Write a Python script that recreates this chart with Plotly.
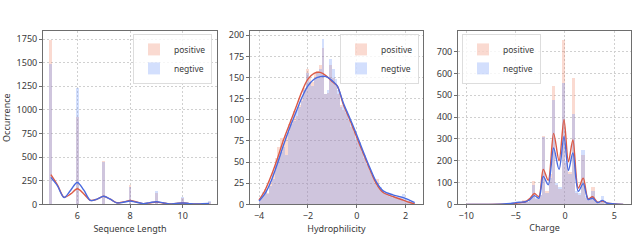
import plotly.graph_objects as go

# ---------------- data ----------------
series_names = ["positive", "negtive"]

# Panel 1: Sequence Length
len_bins = [5, 6, 7, 8, 9, 10, 11]
len_pos = [1740, 920, 460, 210, 125, 65, 25]
len_neg = [1490, 1230, 445, 180, 140, 75, 35]
kde_len_x = [5, 5.25, 5.5, 5.75, 6, 6.25, 6.5, 6.75, 7, 7.25, 7.5, 7.75, 8, 8.25,
             8.5, 8.75, 9, 9.25, 9.5, 9.75, 10, 10.25, 10.5, 10.75, 11]
kde_len_pos = [315, 205, 75, 110, 165, 110, 42, 55, 85, 55, 17, 25, 40, 25,
               8, 15, 25, 15, 5, 10, 15, 8, 3, 5, 8]
kde_len_neg = [285, 195, 72, 150, 232, 150, 42, 55, 85, 55, 15, 22, 35, 22,
               8, 18, 28, 17, 5, 10, 15, 8, 3, 6, 9]

# Panel 2: Hydrophilicity (60 bins from -4.0 to 2.4)
hyd_lo, hyd_hi, hyd_n = -4.0, 2.4, 60
hyd_pos = [8, 10, 18, 14, 28, 38, 55, 68, 78, 72, 82, 95, 100, 110, 105, 118, 125, 138, 160, 150,
           145, 155, 158, 165, 185, 130, 132, 165, 150, 140, 130, 118, 112, 108, 100, 92, 85, 75, 72, 62,
           55, 48, 40, 35, 28, 30, 18, 15, 12, 10, 9, 8, 7, 7, 5, 5, 4, 3, 2, 1]
hyd_neg = [6, 15, 17, 12, 22, 30, 45, 55, 62, 68, 58, 85, 95, 98, 112, 115, 122, 135, 155, 145,
           140, 150, 155, 160, 195, 130, 135, 172, 160, 148, 135, 115, 118, 110, 102, 95, 88, 80, 74, 64,
           58, 48, 42, 35, 25, 22, 20, 16, 14, 12, 12, 10, 9, 9, 10, 12, 6, 4, 3, 2]
kde_hyd_x = [-4.0, -3.75, -3.5, -3.25, -3.0, -2.75, -2.5, -2.25, -2.0, -1.75, -1.5, -1.25, -1.0,
             -0.8, -0.55, -0.27, 0.0, 0.27, 0.54, 0.81, 1.08, 1.5, 1.9, 2.15, 2.37]
kde_hyd_pos = [5, 17, 34, 54, 76, 95, 114, 133, 148, 155, 156, 152, 145,
               140, 118, 99, 79, 60, 41, 24, 14, 9, 5, 2.5, 0.5]
kde_hyd_neg = [4, 13, 28, 48, 70, 90, 108, 126, 140, 148, 151, 151, 146,
               140, 120, 101, 82, 62, 43, 26, 16, 11, 8, 5, 2]

# Panel 3: Charge (48 bins from -10 to 6)
chg_lo, chg_hi, chg_n = -10.0, 6.0, 48
chg_pos = [1, 0, 0, 0, 0, 0, 0, 0, 0, 0, 0, 0, 0, 1, 2, 3, 8, 18, 10, 30,
           105, 25, 45, 315, 60, 140, 540, 90, 70, 755, 190, 150, 580, 50, 45, 225, 30, 20, 80, 10,
           8, 20, 3, 2, 3, 1, 0, 0]
chg_neg = [0, 0, 0, 0, 0, 0, 0, 0, 0, 0, 0, 0, 0, 2, 4, 8, 10, 15, 12, 25,
           90, 30, 45, 310, 50, 120, 480, 100, 80, 555, 200, 140, 415, 60, 50, 250, 40, 25, 60, 15,
           10, 40, 8, 4, 5, 2, 1, 0]
kde_chg_x = [-10, -8, -6.5, -5.5, -5, -4.5, -4, -3.6, -3.1, -2.65, -2.2, -1.7, -1.15, -0.6, -0.1,
             0.35, 0.8, 1.35, 1.85, 2.35, 2.8, 3.3, 3.8, 4.3, 5.0, 5.9]
kde_chg_pos = [0, 0, 0.5, 2, 4, 8, 12, 25, 50, 35, 160, 110, 325, 200, 388,
               195, 295, 75, 120, 25, 35, 10, 15, 5, 2, 0]
kde_chg_neg = [0, 0, 1, 4, 8, 10, 12, 20, 40, 28, 128, 90, 258, 160, 310,
               155, 235, 60, 95, 22, 28, 8, 18, 5, 2, 0]

# ---------------- style ----------------
bar_colors = ["rgba(238,120,85,0.27)", "rgba(110,150,250,0.30)"]
line_colors = ["#dc5a46", "#4a6ae0"]
FONT = "Noto Sans"
frame = "#6e6e6e"
gridc = "#d0d0d0"
txtc = "#3a3a3a"


def centers(lo, hi, n):
    w = (hi - lo) / n
    return [lo + w * (i + 0.5) for i in range(n)], w


fig = go.Figure()

panels = [
    ("x", "y", "legend", len_bins, 0.11, [len_pos, len_neg], kde_len_x, [kde_len_pos, kde_len_neg]),
]
hx, hw = centers(hyd_lo, hyd_hi, hyd_n)
cx, cw = centers(chg_lo, chg_hi, chg_n)
panels.append(("x2", "y2", "legend2", hx, hw, [hyd_pos, hyd_neg], kde_hyd_x, [kde_hyd_pos, kde_hyd_neg]))
panels.append(("x3", "y3", "legend3", cx, cw, [chg_pos, chg_neg], kde_chg_x, [kde_chg_pos, kde_chg_neg]))

for xa, ya, lg, bx, bw, bars, kx, kys in panels:
    for k in range(2):
        fig.add_trace(go.Bar(x=bx, y=bars[k], width=bw, name=series_names[k],
                             marker=dict(color=bar_colors[k], line=dict(width=0)),
                             xaxis=xa, yaxis=ya, legend=lg, showlegend=True))
    for k in range(2):
        fig.add_trace(go.Scatter(x=kx, y=kys[k], mode="lines",
                                 line=dict(color=line_colors[k], width=1.4, shape="spline", smoothing=0.9),
                                 xaxis=xa, yaxis=ya, showlegend=False, hoverinfo="skip"))

W, H = 637, 241
ytop, ybot = 1 - 30 / H, 1 - 209.3 / H
doms = [(43 / W, 217 / W), (250 / W, 423 / W), (458 / W, 631 / W)]
xranges = [[4.7, 11.3], [-4.37, 2.71], [-10.84, 6.69]]
xticks = [[6, 8, 10], [-4, -2, 0, 2], [-10, -5, 0, 5]]
yranges = [[0, 1835], [0, 205], [0, 794]]
ydt = [250, 25, 100]
xtitles = ["Sequence Length", "Hydrophilicity", "Charge"]

axcommon = dict(showline=True, mirror=True, linecolor=frame, linewidth=1, ticks="outside", ticklen=3,
                tickcolor=frame, tickfont=dict(family=FONT, size=9, color=txtc),
                showgrid=True, gridcolor=gridc, griddash="2px,2px", gridwidth=0.7, zeroline=False)

layout = dict(width=W, height=H, margin=dict(l=0, r=0, t=0, b=0), plot_bgcolor="white",
              paper_bgcolor="white", barmode="overlay", bargap=0, showlegend=True,
              font=dict(family=FONT, size=9, color=txtc))
for i in range(3):
    sx = "" if i == 0 else str(i + 1)
    layout["xaxis" + sx] = dict(axcommon, domain=list(doms[i]), range=xranges[i], tickvals=xticks[i],
                                anchor="y" + sx,
                                title=dict(text=xtitles[i], font=dict(family=FONT, size=9, color=txtc), standoff=3))
    layout["yaxis" + sx] = dict(axcommon, domain=[ybot, ytop], range=yranges[i], dtick=ydt[i], anchor="x" + sx)
layout["yaxis"]["title"] = dict(text="Occurrence", font=dict(family=FONT, size=9, color=txtc), standoff=4)

legcommon = dict(bgcolor="rgba(255,255,255,0.8)", bordercolor="#dddddd", borderwidth=1,
                 font=dict(family=FONT, size=8.5, color=txtc), yanchor="top", y=1 - 33 / H,
                 tracegroupgap=0, itemwidth=30)
layout["legend"] = dict(legcommon, xanchor="right", x=212 / W)
layout["legend2"] = dict(legcommon, xanchor="right", x=419 / W)
layout["legend3"] = dict(legcommon, xanchor="left", x=462 / W)

fig.update_layout(**layout)
fig.write_html("out.html")
